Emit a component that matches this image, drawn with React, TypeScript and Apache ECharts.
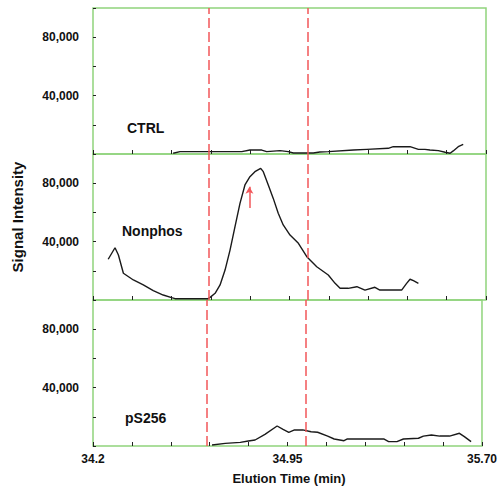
import React, { useEffect, useRef } from "react";
import * as echarts from "echarts";

// Elution time (min) and signal intensity for each trace
const ctrlTime = [34.506, 34.532, 34.768, 34.799, 34.844, 34.863, 34.914, 34.945, 34.965, 35.041, 35.066, 35.098, 35.194, 35.245, 35.327, 35.346, 35.41, 35.442, 35.467, 35.486, 35.518, 35.544, 35.563, 35.575, 35.594, 35.613];
const ctrlSignal = [500, 1600, 1600, 2700, 2700, 1600, 2300, 1600, 700, 700, 1400, 1600, 2700, 3200, 3900, 5000, 5000, 3200, 3200, 2700, 2300, 1200, 500, 2100, 5000, 6600];

const nonphosTime = [34.258, 34.284, 34.297, 34.316, 34.354, 34.392, 34.43, 34.468, 34.5, 34.513, 34.639, 34.647, 34.666, 34.685, 34.704, 34.723, 34.742, 34.761, 34.78, 34.799, 34.818, 34.84, 34.85, 34.869, 34.888, 34.907, 34.926, 34.952, 34.984, 35.016, 35.054, 35.098, 35.124, 35.143, 35.174, 35.207, 35.238, 35.276, 35.295, 35.378, 35.397, 35.41, 35.423, 35.442];
const nonphosSignal = [27900, 35800, 30800, 18300, 13700, 10300, 6400, 3400, 1600, 900, 900, 1800, 4600, 10300, 20500, 34200, 50200, 66200, 78800, 84500, 87900, 90200, 87900, 78800, 69600, 59400, 51400, 44500, 38800, 29700, 22800, 17100, 11400, 8000, 8000, 9100, 6800, 8700, 6800, 6800, 11400, 14200, 13200, 11400];

const ps256Time = [34.659, 34.71, 34.768, 34.799, 34.825, 34.863, 34.91, 34.933, 34.955, 34.977, 35.009, 35.041, 35.066, 35.105, 35.13, 35.168, 35.181, 35.321, 35.34, 35.372, 35.397, 35.455, 35.474, 35.505, 35.537, 35.575, 35.613, 35.632, 35.658];
const ps256Signal = [700, 1800, 2500, 3400, 4100, 8000, 13700, 11400, 9400, 11000, 11000, 9800, 9400, 6800, 4800, 3600, 4800, 4800, 3000, 3000, 4800, 5300, 6800, 7500, 6800, 6800, 8700, 6400, 3000];

const panelNames = ["CTRL", "Nonphos", "pS256"];
const markerTimes = [34.643, 35.016];
const arrowTime = 34.797;
const arrowFrom = 63000;
const arrowTo = 77500;

const xMin = 34.2;
const xMax = 35.7;
const xStep = 0.15;
const xLabelValues = [34.2, 34.95, 35.7];
const xLabelTexts = ["34.2", "34.95", "35.70"];
const yMax = 100000;
const yStep = 20000;
const yLabelValues = [40000, 80000];
const yLabelTexts = ["40,000", "80,000"];

const FONT = "'Liberation Sans', Arial, sans-serif";
const GREEN = "#90d47c";
const RED = "#f2575a";

export default function App() {
  const ref = useRef<HTMLDivElement>(null);
  useEffect(() => {
    if (!ref.current) return;
    const chart = echarts.init(ref.current, null, { renderer: "svg" });
    const tops = [8, 154, 300];
    const panelH = 146;
    const traces = [
      ctrlTime.map((t, i) => [t, ctrlSignal[i]]),
      nonphosTime.map((t, i) => [t, nonphosSignal[i]]),
      ps256Time.map((t, i) => [t, ps256Signal[i]]),
    ];
    const grids = tops.map((top) => ({
      left: 93,
      right: 14,
      top,
      height: panelH,
      show: true,
      borderColor: GREEN,
      borderWidth: 1.5,
      backgroundColor: "transparent",
    }));
    const xAxes = tops.map((_, i) => ({
      type: "value",
      gridIndex: i,
      min: xMin,
      max: xMax,
      interval: xStep,
      axisLine: { show: false },
      splitLine: { show: false },
      axisTick: { show: true, inside: true, length: 4, lineStyle: { color: "#222", width: 1 } },
      axisLabel: {
        show: i === 2,
        margin: 7,
        color: "#111",
        fontFamily: FONT,
        fontWeight: "bold",
        fontSize: 12,
        formatter: (v: number) => {
          for (let k = 0; k < xLabelValues.length; k++) {
            if (Math.abs(v - xLabelValues[k]) < 1e-6) return xLabelTexts[k];
          }
          return "";
        },
      },
    }));
    const yAxes = tops.map((_, i) => ({
      type: "value",
      gridIndex: i,
      min: 0,
      max: yMax,
      interval: yStep,
      axisLine: { show: false },
      splitLine: { show: false },
      axisTick: { show: true, inside: true, length: 3, lineStyle: { color: "#222", width: 1 } },
      axisLabel: {
        margin: 14,
        color: "#111",
        fontFamily: FONT,
        fontWeight: "bold",
        fontSize: 12,
        padding: [0, 0, 10, 0],
        formatter: (v: number) => {
          for (let k = 0; k < yLabelValues.length; k++) {
            if (Math.abs(v - yLabelValues[k]) < 1e-6) return yLabelTexts[k];
          }
          return "";
        },
      },
    }));
    const series = traces.map((data, i) => {
      const mlData: any[] = markerTimes.map((t) => ({ xAxis: t }));
      if (i === 1) {
        mlData.push([
          { coord: [arrowTime, arrowFrom], symbol: "none", lineStyle: { type: "solid", color: RED, width: 1.5 } },
          { coord: [arrowTime, arrowTo], symbol: "arrow", symbolSize: [6, 7] },
        ]);
      }
      return {
        type: "line",
        xAxisIndex: i,
        yAxisIndex: i,
        data,
        showSymbol: false,
        symbol: "none",
        lineStyle: { color: "#1a1a1a", width: 1.4 },
        markLine: {
          silent: true,
          symbol: "none",
          label: { show: false },
          lineStyle: { color: RED, type: [10, 4], width: 1.5 },
          data: mlData,
        },
      };
    });
    const labelPos = [
      { x: 127, y: 129 },
      { x: 122, y: 232 },
      { x: 125, y: 419 },
    ];
    const graphic: any[] = panelNames.map((name, i) => ({
      type: "text",
      left: labelPos[i].x,
      top: labelPos[i].y - 8,
      style: { text: name, font: `bold 14px ${FONT}`, fill: "#111" },
    }));
    graphic.push({
      type: "text",
      x: 17,
      y: 217,
      rotation: Math.PI / 2,
      style: {
        text: "Signal Intensity",
        font: `bold 15px ${FONT}`,
        fill: "#111",
        align: "center",
        verticalAlign: "middle",
      },
    });
    graphic.push({
      type: "text",
      x: 289,
      y: 478,
      style: {
        text: "Elution Time (min)",
        font: `bold 13px ${FONT}`,
        fill: "#111",
        align: "center",
        verticalAlign: "middle",
      },
    });
    chart.setOption({
      animation: false,
      backgroundColor: "#fff",
      grid: grids,
      xAxis: xAxes,
      yAxis: yAxes,
      series,
      graphic,
    });
    return () => chart.dispose();
  }, []);
  return (
    <div
      ref={ref}
      style={{ position: "fixed", left: 0, top: 0, width: 500, height: 490 }}
    />
  );
}
